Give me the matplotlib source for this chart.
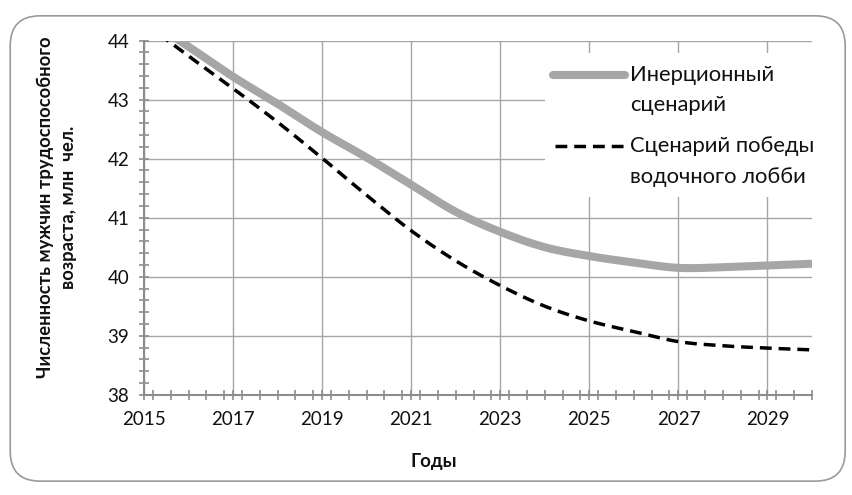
import numpy as np
import matplotlib
matplotlib.use("Agg")
import matplotlib.pyplot as plt
from matplotlib.patches import FancyBboxPatch, Rectangle
from matplotlib.lines import Line2D
from matplotlib.ticker import MultipleLocator, FixedLocator

plt.rcParams['font.family'] = ['Lato', 'DejaVu Sans']

years = [2015, 2016, 2017, 2018, 2019, 2020, 2021, 2022,
         2023, 2024, 2025, 2026, 2027, 2028, 2029, 2030]
inertial = [44.40, 43.90, 43.39, 42.93, 42.45, 42.02, 41.56, 41.10,
            40.76, 40.50, 40.35, 40.24, 40.15, 40.16, 40.19, 40.22]
vodka_lobby = [44.30, 43.74, 43.19, 42.62, 42.01, 41.38, 40.78, 40.27,
               39.85, 39.50, 39.25, 39.07, 38.90, 38.83, 38.79, 38.76]
x_tick_labels = ['2015', '2017', '2019', '2021', '2023', '2025', '2027', '2029']
legend_inertial = ['Инерционный', 'сценарий']
legend_vodka = ['Сценарий победы', 'водочного лобби']
y_title = 'Численность мужчин трудоспособного\nвозраста, млн  чел.'
x_title = 'Годы'


def smooth(xs, ys, steps=20):
    """Catmull-Rom curve through the points, like a spreadsheet 'smoothed line'."""
    xs = np.asarray(xs, float)
    ys = np.asarray(ys, float)
    px = np.concatenate([[2 * xs[0] - xs[1]], xs, [2 * xs[-1] - xs[-2]]])
    py = np.concatenate([[2 * ys[0] - ys[1]], ys, [2 * ys[-1] - ys[-2]]])
    out_x, out_y = [], []
    t = np.linspace(0, 1, steps, endpoint=False)
    for i in range(1, len(px) - 2):
        for arr, out in ((px, out_x), (py, out_y)):
            p0, p1, p2, p3 = arr[i - 1], arr[i], arr[i + 1], arr[i + 2]
            seg = 0.5 * ((2 * p1) + (-p0 + p2) * t +
                         (2 * p0 - 5 * p1 + 4 * p2 - p3) * t ** 2 +
                         (-p0 + 3 * p1 - 3 * p2 + p3) * t ** 3)
            out.extend(seg)
    out_x.append(xs[-1])
    out_y.append(ys[-1])
    return np.array(out_x), np.array(out_y)


fig = plt.figure(figsize=(8.52, 4.95), dpi=100)

# rounded frame around the whole chart
frame = FancyBboxPatch((0.012, 0.028), 0.98, 0.94,
                       boxstyle="round,pad=0,rounding_size=0.035",
                       transform=fig.transFigure, facecolor='white',
                       edgecolor='#9a9a9a', linewidth=1.2,
                       mutation_aspect=852 / 495, zorder=-10)
fig.patches.append(frame)

ax = fig.add_axes([0.169, 0.2026, 0.784, 0.7152])
ax.set_facecolor('none')
ax.set_zorder(2)

grid_c = '#a6a6a6'
axis_c = '#8c8c8c'
text_c = '#111111'
gray_line = '#a6a6a6'

ax.set_xlim(2015, 2030)
ax.set_ylim(38, 44)

ax.xaxis.set_major_locator(FixedLocator([int(v) for v in x_tick_labels]))
ax.set_xticklabels(x_tick_labels)
ax.xaxis.set_minor_locator(MultipleLocator(0.4))
ax.yaxis.set_major_locator(MultipleLocator(1))
ax.yaxis.set_minor_locator(MultipleLocator(0.2))

ax.grid(True, which='major', color=grid_c, linewidth=1.0)
ax.set_axisbelow(True)

for side in ('top', 'right'):
    ax.spines[side].set_visible(False)
for side in ('left', 'bottom'):
    ax.spines[side].set_color(axis_c)
    ax.spines[side].set_linewidth(1.5)
    ax.spines[side].set_zorder(5)

ax.tick_params(which='both', direction='inout', color=axis_c, width=1.2,
               labelsize=13.5, labelcolor=text_c)
ax.tick_params(which='major', length=7)
ax.tick_params(which='minor', length=7)
ax.tick_params(axis='y', pad=7)
ax.tick_params(axis='x', pad=8)

sx, sy = smooth(years, inertial)
ax.plot(sx, sy, color=gray_line, linewidth=5.8, solid_capstyle='butt', zorder=3)
dx, dy = smooth(years, vodka_lobby)
ax.plot(dx, dy, color='black', linewidth=2.5, dashes=(3.4, 2.0), zorder=4)

# legend drawn as a white panel over the grid
ax.add_patch(Rectangle((0.600, 0.558), 0.42, 0.407, transform=ax.transAxes,
                       facecolor='white', edgecolor='none', zorder=6, clip_on=False))
ax.add_line(Line2D([0.613, 0.72], [0.903, 0.903], transform=ax.transAxes,
                   color=gray_line, linewidth=5.8, solid_capstyle='round', zorder=7))
ax.add_line(Line2D([0.616, 0.72], [0.703, 0.703], transform=ax.transAxes,
                   color='black', linewidth=2.5, dashes=(3.4, 2.0), zorder=7))
for txt, yy in zip(legend_inertial + legend_vodka, [0.903, 0.818, 0.703, 0.615]):
    ax.text(0.728, yy, txt, transform=ax.transAxes, fontsize=15.8,
            va='center', ha='left', zorder=8, color=text_c)

fig.text(0.0665, 0.582, y_title, rotation=90, ha='center', va='center',
         multialignment='center', fontsize=13.2, fontweight='bold',
         linespacing=1.4, color=text_c)
fig.text(0.509, 0.067, x_title, ha='center', va='center',
         fontsize=13.5, fontweight='bold', color=text_c)

fig.savefig('out.png', dpi=100)
